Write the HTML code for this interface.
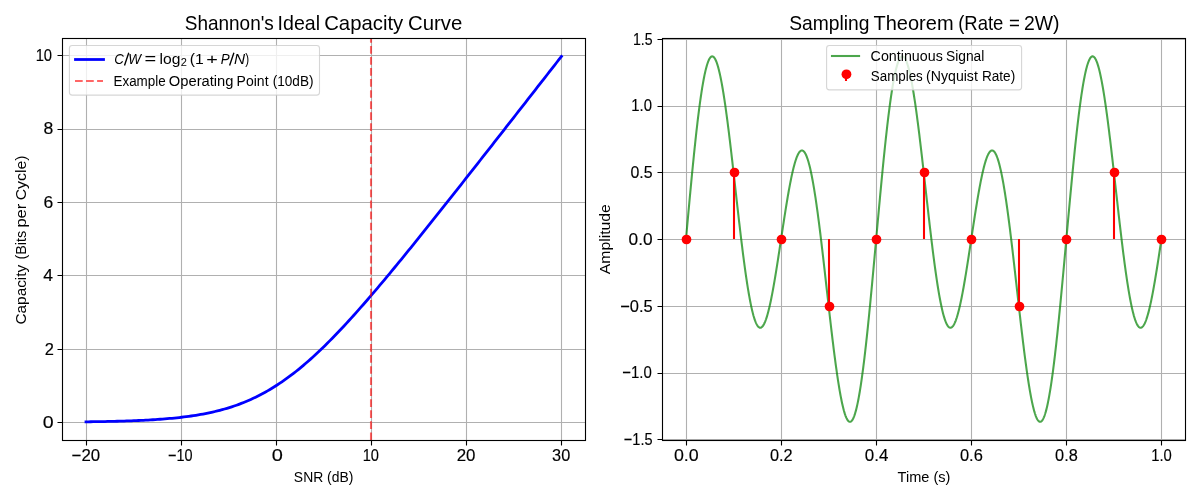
<!DOCTYPE html>
<html><head><meta charset="utf-8"><title>Shannon plots</title>
<style>html,body{margin:0;padding:0;background:#fff;}body{width:1200px;height:500px;overflow:hidden;}svg{display:block;will-change:transform;font-family:'Liberation Sans', sans-serif;fill:#000;}text[font-size="16.67"]{stroke:#000;stroke-width:0.15px;}</style></head><body>
<svg width="1200" height="500" viewBox="0 0 1200 500">
<rect width="1200" height="500" fill="#fff"/>
<clipPath id="c1"><rect x="62.22" y="38.1" width="523" height="402"/></clipPath>
<path d="M86.5 440.5V38.5M181.5 440.5V38.5M276.5 440.5V38.5M371.5 440.5V38.5M466.5 440.5V38.5M561.5 440.5V38.5M62.5 422.5H585.5M62.5 349.5H585.5M62.5 275.5H585.5M62.5 202.5H585.5M62.5 129.5H585.5M62.5 55.5H585.5" stroke="#b0b0b0" stroke-width="1.11" fill="none"/>
<g clip-path="url(#c1)">
<path d="M85.99 421.83L88.38 421.8L90.77 421.76L93.16 421.73L95.55 421.69L97.94 421.65L100.33 421.61L102.72 421.57L105.11 421.52L107.5 421.47L109.88 421.42L112.27 421.36L114.66 421.3L117.05 421.24L119.44 421.18L121.83 421.11L124.22 421.03L126.61 420.96L129 420.87L131.39 420.79L133.78 420.7L136.17 420.6L138.56 420.5L140.94 420.39L143.33 420.27L145.72 420.15L148.11 420.02L150.5 419.89L152.89 419.74L155.28 419.59L157.67 419.43L160.06 419.26L162.45 419.08L164.84 418.9L167.23 418.7L169.62 418.49L172 418.26L174.39 418.03L176.78 417.78L179.17 417.52L181.56 417.25L183.95 416.96L186.34 416.66L188.73 416.33L191.12 416L193.51 415.64L195.9 415.27L198.29 414.87L200.68 414.46L203.06 414.02L205.45 413.57L207.84 413.09L210.23 412.58L212.62 412.05L215.01 411.5L217.4 410.92L219.79 410.31L222.18 409.67L224.57 409L226.96 408.31L229.35 407.58L231.74 406.81L234.12 406.02L236.51 405.19L238.9 404.32L241.29 403.42L243.68 402.48L246.07 401.5L248.46 400.48L250.85 399.43L253.24 398.33L255.63 397.19L258.02 396.01L260.41 394.79L262.79 393.53L265.18 392.22L267.57 390.87L269.96 389.47L272.35 388.03L274.74 386.55L277.13 385.02L279.52 383.45L281.91 381.83L284.3 380.17L286.69 378.47L289.08 376.72L291.47 374.93L293.85 373.09L296.24 371.22L298.63 369.3L301.02 367.34L303.41 365.34L305.8 363.3L308.19 361.22L310.58 359.1L312.97 356.95L315.36 354.76L317.75 352.53L320.14 350.27L322.53 347.97L324.91 345.64L327.3 343.28L329.69 340.89L332.08 338.47L334.47 336.02L336.86 333.54L339.25 331.04L341.64 328.51L344.03 325.95L346.42 323.37L348.81 320.77L351.2 318.14L353.59 315.5L355.97 312.83L358.36 310.14L360.75 307.44L363.14 304.71L365.53 301.97L367.92 299.22L370.31 296.44L372.7 293.65L375.09 290.85L377.48 288.04L379.87 285.21L382.26 282.37L384.65 279.52L387.03 276.65L389.42 273.78L391.81 270.89L394.2 268L396.59 265.1L398.98 262.19L401.37 259.27L403.76 256.34L406.15 253.4L408.54 250.46L410.93 247.51L413.32 244.56L415.7 241.6L418.09 238.63L420.48 235.66L422.87 232.68L425.26 229.7L427.65 226.72L430.04 223.72L432.43 220.73L434.82 217.73L437.21 214.73L439.6 211.72L441.99 208.71L444.38 205.7L446.76 202.69L449.15 199.67L451.54 196.65L453.93 193.63L456.32 190.6L458.71 187.58L461.1 184.55L463.49 181.51L465.88 178.48L468.27 175.45L470.66 172.41L473.05 169.37L475.44 166.33L477.82 163.29L480.21 160.25L482.6 157.21L484.99 154.16L487.38 151.11L489.77 148.07L492.16 145.02L494.55 141.97L496.94 138.92L499.33 135.87L501.72 132.82L504.11 129.77L506.5 126.71L508.88 123.66L511.27 120.61L513.66 117.55L516.05 114.5L518.44 111.44L520.83 108.38L523.22 105.33L525.61 102.27L528 99.21L530.39 96.15L532.78 93.1L535.17 90.04L537.56 86.98L539.94 83.92L542.33 80.86L544.72 77.8L547.11 74.74L549.5 71.68L551.89 68.62L554.28 65.56L556.67 62.5L559.06 59.43L561.45 56.37" fill="none" stroke="#0000ff" stroke-width="2.78" stroke-linejoin="round" stroke-linecap="square"/>
<path d="M371 440.1V38.1" fill="none" stroke="#ff0000" stroke-opacity="0.6" stroke-width="2.08" stroke-dasharray="7.71 3.33"/>
</g>
<path d="M86.5 440.5v5M181.5 440.5v5M276.5 440.5v5M371.5 440.5v5M466.5 440.5v5M561.5 440.5v5M62.5 422.5h-5M62.5 349.5h-5M62.5 275.5h-5M62.5 202.5h-5M62.5 129.5h-5M62.5 55.5h-5" stroke="#000" stroke-width="1.11" fill="none"/>
<rect x="62.5" y="38.5" width="523" height="402" fill="none" stroke="#000" stroke-width="1.11" stroke-linejoin="miter"/>
<text x="71.62" y="460.9" font-size="16.67" textLength="28.53" lengthAdjust="spacingAndGlyphs">−20</text>
<text x="167.99" y="460.9" font-size="16.67" textLength="24.57" lengthAdjust="spacingAndGlyphs">−10</text>
<text x="271.85" y="460.9" font-size="16.67" textLength="11.12" lengthAdjust="spacingAndGlyphs">0</text>
<text x="362.7" y="460.9" font-size="16.67" textLength="16.27" lengthAdjust="spacingAndGlyphs">10</text>
<text x="456.71" y="460.9" font-size="16.67" textLength="18.8" lengthAdjust="spacingAndGlyphs">20</text>
<text x="552.09" y="460.9" font-size="16.67" textLength="18.16" lengthAdjust="spacingAndGlyphs">30</text>
<text x="42.87" y="428" font-size="16.67" textLength="10.89" lengthAdjust="spacingAndGlyphs">0</text>
<text x="44.74" y="355" font-size="16.67" textLength="9.14" lengthAdjust="spacingAndGlyphs">2</text>
<text x="43.21" y="281" font-size="16.67" textLength="9.74" lengthAdjust="spacingAndGlyphs">4</text>
<text x="43.48" y="208" font-size="16.67" textLength="9.72" lengthAdjust="spacingAndGlyphs">6</text>
<text x="43.61" y="134" font-size="16.67" textLength="9.8" lengthAdjust="spacingAndGlyphs">8</text>
<text x="35.64" y="61" font-size="16.67" textLength="16.44" lengthAdjust="spacingAndGlyphs">10</text>
<text x="293.87" y="482" font-size="13.89" textLength="59.5" lengthAdjust="spacingAndGlyphs">SNR (dB)</text>
<text transform="translate(25.6 324.53) rotate(-90)" font-size="13.89" textLength="59.75" lengthAdjust="spacingAndGlyphs">Capacity</text>
<text transform="translate(25.6 259.51) rotate(-90)" font-size="13.89" textLength="28.72" lengthAdjust="spacingAndGlyphs">(Bits</text>
<text transform="translate(25.6 227.54) rotate(-90)" font-size="13.89" textLength="23.76" lengthAdjust="spacingAndGlyphs">per</text>
<text transform="translate(25.6 200.36) rotate(-90)" font-size="13.89" textLength="45.01" lengthAdjust="spacingAndGlyphs">Cycle)</text>
<text x="184.75" y="29.9" font-size="19.44" textLength="89.1" lengthAdjust="spacingAndGlyphs">Shannon&#x27;s</text>
<text x="277.64" y="29.9" font-size="19.44" textLength="42.4" lengthAdjust="spacingAndGlyphs">Ideal</text>
<text x="324.21" y="29.9" font-size="19.44" textLength="79.03" lengthAdjust="spacingAndGlyphs">Capacity</text>
<text x="407.95" y="29.9" font-size="19.44" textLength="54.35" lengthAdjust="spacingAndGlyphs">Curve</text>
<rect x="69.4" y="45.5" width="250.1" height="49.6" rx="2.8" ry="2.8" fill="#fff" fill-opacity="0.8" stroke="#ccc" stroke-opacity="0.8" stroke-width="1.11"/>
<path d="M74.1 59.5H104.9" stroke="#0000ff" stroke-width="2.78" fill="none"/>
<path d="M75 81H103" stroke="#ff0000" stroke-opacity="0.6" stroke-width="2.08" stroke-dasharray="7.71 3.33" fill="none"/>
<text x="114.31" y="64.1" font-size="14.7" font-style="italic" textLength="9.58" lengthAdjust="spacingAndGlyphs">C</text>
<path d="M124.5 65.5L128.75 52.7M229.6 65.5L233.9 52.7" stroke="#000" stroke-width="1.35" fill="none"/>
<text x="128.15" y="64.1" font-size="14.7" font-style="italic" textLength="12.82" lengthAdjust="spacingAndGlyphs">W</text>
<text x="144.58" y="64.1" font-size="14.7" textLength="11.68" lengthAdjust="spacingAndGlyphs">=</text>
<text x="159.63" y="64.1" font-size="14.7" textLength="20.92" lengthAdjust="spacingAndGlyphs">log</text>
<text x="180.76" y="65.9" font-size="10.3" textLength="6.16" lengthAdjust="spacingAndGlyphs">2</text>
<text x="189.76" y="64.1" font-size="14.7" textLength="13.97" lengthAdjust="spacingAndGlyphs">(1</text>
<text x="206.29" y="64.1" font-size="14.7" textLength="11.56" lengthAdjust="spacingAndGlyphs">+</text>
<text x="220.75" y="64.1" font-size="14.7" font-style="italic" textLength="8.9" lengthAdjust="spacingAndGlyphs">P</text>
<text x="233.98" y="64.1" font-size="14.7" font-style="italic" textLength="11.11" lengthAdjust="spacingAndGlyphs">N</text>
<text x="245.2" y="64.1" font-size="14.7" textLength="3.92" lengthAdjust="spacingAndGlyphs">)</text>
<text x="113.51" y="85.7" font-size="13.89" textLength="52.18" lengthAdjust="spacingAndGlyphs">Example</text>
<text x="168.84" y="85.7" font-size="13.89" textLength="64.66" lengthAdjust="spacingAndGlyphs">Operating</text>
<text x="236.61" y="85.7" font-size="13.89" textLength="31.93" lengthAdjust="spacingAndGlyphs">Point</text>
<text x="272.74" y="85.7" font-size="13.89" textLength="40.79" lengthAdjust="spacingAndGlyphs">(10dB)</text>
<clipPath id="c2"><rect x="662.22" y="38.1" width="523" height="402"/></clipPath>
<path d="M686.5 440.5V38.5M781.5 440.5V38.5M876.5 440.5V38.5M971.5 440.5V38.5M1066.5 440.5V38.5M1161.5 440.5V38.5M662.5 439.5H1185.5M662.5 373.5H1185.5M662.5 306.5H1185.5M662.5 239.5H1185.5M662.5 172.5H1185.5M662.5 106.5H1185.5M662.5 39.5H1185.5" stroke="#b0b0b0" stroke-width="1.11" fill="none"/>
<g clip-path="url(#c2)">
<path d="M685.99 239.1L686.47 233.85L686.94 228.6L687.42 223.37L687.9 218.14L688.37 212.94L688.85 207.75L689.32 202.59L689.8 197.47L690.28 192.37L690.75 187.32L691.23 182.31L691.7 177.35L692.18 172.44L692.66 167.59L693.13 162.79L693.61 158.06L694.08 153.4L694.56 148.81L695.04 144.29L695.51 139.85L695.99 135.5L696.46 131.23L696.94 127.06L697.42 122.97L697.89 118.98L698.37 115.1L698.84 111.31L699.32 107.63L699.79 104.06L700.27 100.6L700.75 97.26L701.22 94.03L701.7 90.93L702.17 87.94L702.65 85.08L703.13 82.35L703.6 79.74L704.08 77.26L704.55 74.92L705.03 72.71L705.51 70.64L705.98 68.7L706.46 66.9L706.93 65.24L707.41 63.72L707.89 62.34L708.36 61.1L708.84 60.01L709.31 59.06L709.79 58.25L710.27 57.59L710.74 57.07L711.22 56.69L711.69 56.46L712.17 56.37L712.64 56.43L713.12 56.62L713.6 56.96L714.07 57.44L714.55 58.06L715.02 58.82L715.5 59.72L715.98 60.75L716.45 61.92L716.93 63.22L717.4 64.65L717.88 66.21L718.36 67.9L718.83 69.72L719.31 71.66L719.78 73.72L720.26 75.9L720.74 78.2L721.21 80.61L721.69 83.13L722.16 85.76L722.64 88.5L723.12 91.33L723.59 94.27L724.07 97.31L724.54 100.43L725.02 103.65L725.49 106.95L725.97 110.34L726.45 113.81L726.92 117.35L727.4 120.96L727.87 124.64L728.35 128.39L728.83 132.2L729.3 136.06L729.78 139.98L730.25 143.94L730.73 147.95L731.21 152L731.68 156.09L732.16 160.21L732.63 164.36L733.11 168.54L733.59 172.73L734.06 176.94L734.54 181.16L735.01 185.39L735.49 189.62L735.97 193.86L736.44 198.08L736.92 202.3L737.39 206.51L737.87 210.7L738.35 214.87L738.82 219.01L739.3 223.13L739.77 227.21L740.25 231.25L740.72 235.26L741.2 239.22L741.68 243.13L742.15 246.99L742.63 250.8L743.1 254.54L743.58 258.23L744.06 261.84L744.53 265.39L745.01 268.87L745.48 272.27L745.96 275.59L746.44 278.83L746.91 281.99L747.39 285.06L747.86 288.04L748.34 290.93L748.82 293.72L749.29 296.42L749.77 299.01L750.24 301.5L750.72 303.89L751.2 306.18L751.67 308.35L752.15 310.42L752.62 312.38L753.1 314.22L753.57 315.95L754.05 317.56L754.53 319.06L755 320.44L755.48 321.7L755.95 322.85L756.43 323.87L756.91 324.78L757.38 325.56L757.86 326.23L758.33 326.77L758.81 327.19L759.29 327.5L759.76 327.68L760.24 327.74L760.71 327.69L761.19 327.51L761.67 327.22L762.14 326.81L762.62 326.29L763.09 325.65L763.57 324.9L764.05 324.03L764.52 323.06L765 321.97L765.47 320.78L765.95 319.49L766.42 318.09L766.9 316.59L767.38 314.99L767.85 313.29L768.33 311.5L768.8 309.62L769.28 307.65L769.76 305.59L770.23 303.45L770.71 301.22L771.18 298.92L771.66 296.54L772.14 294.1L772.61 291.58L773.09 289L773.56 286.35L774.04 283.65L774.52 280.89L774.99 278.08L775.47 275.22L775.94 272.31L776.42 269.37L776.9 266.38L777.37 263.37L777.85 260.32L778.32 257.25L778.8 254.15L779.28 251.04L779.75 247.91L780.23 244.77L780.7 241.62L781.18 238.47L781.65 235.32L782.13 232.18L782.61 229.04L783.08 225.92L783.56 222.81L784.03 219.72L784.51 216.66L784.99 213.62L785.46 210.62L785.94 207.65L786.41 204.72L786.89 201.83L787.37 198.99L787.84 196.2L788.32 193.46L788.79 190.78L789.27 188.16L789.75 185.61L790.22 183.12L790.7 180.7L791.17 178.35L791.65 176.08L792.13 173.89L792.6 171.78L793.08 169.75L793.55 167.82L794.03 165.97L794.5 164.22L794.98 162.56L795.46 161L795.93 159.54L796.41 158.18L796.88 156.93L797.36 155.78L797.84 154.74L798.31 153.81L798.79 152.99L799.26 152.28L799.74 151.69L800.22 151.21L800.69 150.85L801.17 150.6L801.64 150.48L802.12 150.47L802.6 150.58L803.07 150.81L803.55 151.16L804.02 151.63L804.5 152.22L804.98 152.94L805.45 153.77L805.93 154.72L806.4 155.79L806.88 156.99L807.35 158.3L807.83 159.72L808.31 161.27L808.78 162.93L809.26 164.7L809.73 166.59L810.21 168.59L810.69 170.7L811.16 172.92L811.64 175.25L812.11 177.68L812.59 180.21L813.07 182.85L813.54 185.58L814.02 188.41L814.49 191.34L814.97 194.36L815.45 197.46L815.92 200.65L816.4 203.93L816.87 207.28L817.35 210.71L817.83 214.22L818.3 217.8L818.78 221.44L819.25 225.15L819.73 228.92L820.21 232.75L820.68 236.63L821.16 240.56L821.63 244.54L822.11 248.56L822.58 252.62L823.06 256.72L823.54 260.84L824.01 265L824.49 269.17L824.96 273.37L825.44 277.58L825.92 281.81L826.39 286.04L826.87 290.27L827.34 294.5L827.82 298.73L828.3 302.95L828.77 307.15L829.25 311.34L829.72 315.5L830.2 319.64L830.68 323.75L831.15 327.82L831.63 331.86L832.1 335.85L832.58 339.79L833.06 343.69L833.53 347.53L834.01 351.32L834.48 355.04L834.96 358.69L835.43 362.28L835.91 365.79L836.39 369.22L836.86 372.58L837.34 375.85L837.81 379.03L838.29 382.12L838.77 385.11L839.24 388.01L839.72 390.81L840.19 393.51L840.67 396.09L841.15 398.57L841.62 400.94L842.1 403.19L842.57 405.32L843.05 407.33L843.53 409.22L844 410.99L844.48 412.63L844.95 414.14L845.43 415.52L845.91 416.77L846.38 417.88L846.86 418.86L847.33 419.7L847.81 420.4L848.29 420.97L848.76 421.39L849.24 421.67L849.71 421.81L850.19 421.81L850.66 421.66L851.14 421.37L851.62 420.94L852.09 420.36L852.57 419.64L853.04 418.78L853.52 417.77L854 416.62L854.47 415.32L854.95 413.89L855.42 412.31L855.9 410.6L856.38 408.74L856.85 406.75L857.33 404.62L857.8 402.36L858.28 399.96L858.76 397.43L859.23 394.77L859.71 391.99L860.18 389.08L860.66 386.04L861.14 382.89L861.61 379.61L862.09 376.22L862.56 372.72L863.04 369.11L863.51 365.39L863.99 361.56L864.47 357.63L864.94 353.61L865.42 349.48L865.89 345.27L866.37 340.97L866.85 336.58L867.32 332.11L867.8 327.57L868.27 322.94L868.75 318.25L869.23 313.5L869.7 308.68L870.18 303.8L870.65 298.87L871.13 293.89L871.61 288.86L872.08 283.79L872.56 278.69L873.03 273.55L873.51 268.38L873.99 263.18L874.46 257.97L874.94 252.74L875.41 247.5L875.89 242.25L876.36 237L876.84 231.75L877.32 226.51L877.79 221.28L878.27 216.06L878.74 210.86L879.22 205.69L879.7 200.54L880.17 195.43L880.65 190.35L881.12 185.31L881.6 180.32L882.08 175.38L882.55 170.49L883.03 165.66L883.5 160.89L883.98 156.19L884.46 151.55L884.93 146.99L885.41 142.51L885.88 138.1L886.36 133.78L886.84 129.55L887.31 125.41L887.79 121.37L888.26 117.42L888.74 113.57L889.22 109.83L889.69 106.19L890.17 102.67L890.64 99.25L891.12 95.96L891.59 92.78L892.07 89.72L892.55 86.78L893.02 83.97L893.5 81.29L893.97 78.73L894.45 76.31L894.93 74.02L895.4 71.86L895.88 69.85L896.35 67.96L896.83 66.22L897.31 64.61L897.78 63.15L898.26 61.83L898.73 60.65L899.21 59.61L899.69 58.72L900.16 57.97L900.64 57.36L901.11 56.9L901.59 56.58L902.07 56.41L902.54 56.38L903.02 56.49L903.49 56.74L903.97 57.14L904.44 57.67L904.92 58.35L905.4 59.16L905.87 60.11L906.35 61.2L906.82 62.42L907.3 63.77L907.78 65.26L908.25 66.87L908.73 68.61L909.2 70.48L909.68 72.47L910.16 74.58L910.63 76.8L911.11 79.15L911.58 81.6L912.06 84.17L912.54 86.84L913.01 89.62L913.49 92.5L913.96 95.47L914.44 98.55L914.92 101.71L915.39 104.96L915.87 108.3L916.34 111.72L916.82 115.21L917.29 118.79L917.77 122.43L918.25 126.13L918.72 129.91L919.2 133.74L919.67 137.62L920.15 141.56L920.63 145.54L921.1 149.57L921.58 153.64L922.05 157.74L922.53 161.87L923.01 166.03L923.48 170.21L923.96 174.41L924.43 178.63L924.91 182.85L925.39 187.08L925.86 191.32L926.34 195.55L926.81 199.77L927.29 203.99L927.77 208.19L928.24 212.37L928.72 216.53L929.19 220.66L929.67 224.76L930.15 228.83L930.62 232.86L931.1 236.85L931.57 240.79L932.05 244.68L932.52 248.52L933 252.3L933.48 256.02L933.95 259.68L934.43 263.27L934.9 266.79L935.38 270.24L935.86 273.61L936.33 276.9L936.81 280.11L937.28 283.23L937.76 286.26L938.24 289.21L938.71 292.06L939.19 294.81L939.66 297.47L940.14 300.02L940.62 302.47L941.09 304.82L941.57 307.06L942.04 309.19L942.52 311.22L943 313.13L943.47 314.92L943.95 316.61L944.42 318.18L944.9 319.63L945.37 320.96L945.85 322.18L946.33 323.27L946.8 324.25L947.28 325.11L947.75 325.84L948.23 326.46L948.71 326.96L949.18 327.33L949.66 327.59L950.13 327.72L950.61 327.74L951.09 327.63L951.56 327.41L952.04 327.07L952.51 326.62L952.99 326.05L953.47 325.36L953.94 324.56L954.42 323.65L954.89 322.64L955.37 321.51L955.85 320.28L956.32 318.94L956.8 317.5L957.27 315.96L957.75 314.32L958.22 312.58L958.7 310.76L959.18 308.84L959.65 306.83L960.13 304.74L960.6 302.57L961.08 300.31L961.56 297.98L962.03 295.57L962.51 293.1L962.98 290.55L963.46 287.95L963.94 285.28L964.41 282.55L964.89 279.77L965.36 276.94L965.84 274.06L966.32 271.14L966.79 268.18L967.27 265.18L967.74 262.15L968.22 259.09L968.7 256.01L969.17 252.91L969.65 249.79L970.12 246.65L970.6 243.51L971.08 240.36L971.55 237.21L972.03 234.06L972.5 230.92L972.98 227.79L973.45 224.67L973.93 221.57L974.41 218.49L974.88 215.44L975.36 212.42L975.83 209.43L976.31 206.47L976.79 203.56L977.26 200.69L977.74 197.87L978.21 195.1L978.69 192.38L979.17 189.73L979.64 187.13L980.12 184.6L980.59 182.14L981.07 179.75L981.55 177.43L982.02 175.19L982.5 173.03L982.97 170.96L983.45 168.97L983.93 167.07L984.4 165.26L984.88 163.55L985.35 161.93L985.83 160.41L986.3 158.99L986.78 157.67L987.26 156.46L987.73 155.35L988.21 154.36L988.68 153.47L989.16 152.69L989.64 152.03L990.11 151.48L990.59 151.05L991.06 150.74L991.54 150.54L992.02 150.46L992.49 150.5L992.97 150.66L993.44 150.93L993.92 151.33L994.4 151.85L994.87 152.49L995.35 153.25L995.82 154.14L996.3 155.14L996.78 156.26L997.25 157.5L997.73 158.85L998.2 160.33L998.68 161.92L999.15 163.63L999.63 165.45L1000.11 167.38L1000.58 169.42L1001.06 171.58L1001.53 173.84L1002.01 176.21L1002.49 178.68L1002.96 181.26L1003.44 183.93L1003.91 186.71L1004.39 189.57L1004.87 192.54L1005.34 195.59L1005.82 198.73L1006.29 201.95L1006.77 205.26L1007.25 208.64L1007.72 212.11L1008.2 215.64L1008.67 219.25L1009.15 222.92L1009.63 226.65L1010.1 230.44L1010.58 234.29L1011.05 238.2L1011.53 242.15L1012.01 246.14L1012.48 250.18L1012.96 254.25L1013.43 258.36L1013.91 262.5L1014.38 266.67L1014.86 270.85L1015.34 275.05L1015.81 279.27L1016.29 283.5L1016.76 287.73L1017.24 291.96L1017.72 296.19L1018.19 300.42L1018.67 304.63L1019.14 308.83L1019.62 313L1020.1 317.16L1020.57 321.29L1021.05 325.38L1021.52 329.44L1022 333.46L1022.48 337.43L1022.95 341.36L1023.43 345.23L1023.9 349.05L1024.38 352.81L1024.86 356.51L1025.33 360.13L1025.81 363.69L1026.28 367.17L1026.76 370.57L1027.23 373.89L1027.71 377.13L1028.19 380.28L1028.66 383.33L1029.14 386.29L1029.61 389.14L1030.09 391.9L1030.57 394.55L1031.04 397.1L1031.52 399.53L1031.99 401.85L1032.47 404.05L1032.95 406.14L1033.42 408.1L1033.9 409.94L1034.37 411.66L1034.85 413.25L1035.33 414.71L1035.8 416.03L1036.28 417.23L1036.75 418.29L1037.23 419.21L1037.71 420L1038.18 420.64L1038.66 421.15L1039.13 421.52L1039.61 421.74L1040.09 421.83L1040.56 421.77L1041.04 421.56L1041.51 421.22L1041.99 420.73L1042.46 420.09L1042.94 419.31L1043.42 418.39L1043.89 417.33L1044.37 416.12L1044.84 414.77L1045.32 413.28L1045.8 411.64L1046.27 409.87L1046.75 407.96L1047.22 405.91L1047.7 403.73L1048.18 401.41L1048.65 398.96L1049.13 396.38L1049.6 393.68L1050.08 390.84L1050.56 387.88L1051.03 384.8L1051.51 381.59L1051.98 378.27L1052.46 374.84L1052.94 371.29L1053.41 367.63L1053.89 363.87L1054.36 360L1054.84 356.03L1055.31 351.97L1055.79 347.81L1056.27 343.56L1056.74 339.22L1057.22 334.8L1057.69 330.3L1058.17 325.73L1058.65 321.08L1059.12 316.36L1059.6 311.58L1060.07 306.73L1060.55 301.84L1061.03 296.88L1061.5 291.88L1061.98 286.84L1062.45 281.75L1062.93 276.63L1063.41 271.48L1063.88 266.3L1064.36 261.1L1064.83 255.88L1065.31 250.64L1065.79 245.4L1066.26 240.15L1066.74 234.9L1067.21 229.65L1067.69 224.41L1068.16 219.19L1068.64 213.98L1069.12 208.79L1069.59 203.62L1070.07 198.49L1070.54 193.39L1071.02 188.33L1071.5 183.31L1071.97 178.34L1072.45 173.42L1072.92 168.55L1073.4 163.75L1073.88 159L1074.35 154.32L1074.83 149.72L1075.3 145.19L1075.78 140.74L1076.26 136.36L1076.73 132.08L1077.21 127.88L1077.68 123.78L1078.16 119.77L1078.64 115.87L1079.11 112.06L1079.59 108.36L1080.06 104.77L1080.54 101.29L1081.02 97.92L1081.49 94.67L1081.97 91.54L1082.44 88.53L1082.92 85.64L1083.39 82.88L1083.87 80.25L1084.35 77.75L1084.82 75.38L1085.3 73.14L1085.77 71.04L1086.25 69.08L1086.73 67.25L1087.2 65.56L1087.68 64.01L1088.15 62.61L1088.63 61.34L1089.11 60.22L1089.58 59.24L1090.06 58.4L1090.53 57.71L1091.01 57.16L1091.49 56.76L1091.96 56.5L1092.44 56.38L1092.91 56.4L1093.39 56.57L1093.87 56.88L1094.34 57.33L1094.82 57.93L1095.29 58.66L1095.77 59.53L1096.24 60.53L1096.72 61.67L1097.2 62.95L1097.67 64.35L1098.15 65.89L1098.62 67.55L1099.1 69.35L1099.58 71.26L1100.05 73.3L1100.53 75.45L1101 77.73L1101.48 80.12L1101.96 82.62L1102.43 85.22L1102.91 87.94L1103.38 90.76L1103.86 93.68L1104.34 96.69L1104.81 99.8L1105.29 103L1105.76 106.29L1106.24 109.66L1106.72 113.11L1107.19 116.63L1107.67 120.23L1108.14 123.9L1108.62 127.64L1109.09 131.43L1109.57 135.28L1110.05 139.19L1110.52 143.15L1111 147.15L1111.47 151.19L1111.95 155.27L1112.43 159.39L1112.9 163.53L1113.38 167.7L1113.85 171.89L1114.33 176.1L1114.81 180.32L1115.28 184.54L1115.76 188.78L1116.23 193.01L1116.71 197.24L1117.19 201.46L1117.66 205.67L1118.14 209.86L1118.61 214.04L1119.09 218.18L1119.57 222.31L1120.04 226.39L1120.52 230.45L1120.99 234.46L1121.47 238.43L1121.95 242.35L1122.42 246.22L1122.9 250.04L1123.37 253.8L1123.85 257.49L1124.32 261.13L1124.8 264.69L1125.28 268.18L1125.75 271.6L1126.23 274.94L1126.7 278.19L1127.18 281.37L1127.66 284.45L1128.13 287.45L1128.61 290.36L1129.08 293.17L1129.56 295.88L1130.04 298.5L1130.51 301.01L1130.99 303.42L1131.46 305.73L1131.94 307.93L1132.42 310.02L1132.89 311.99L1133.37 313.86L1133.84 315.61L1134.32 317.25L1134.8 318.77L1135.27 320.18L1135.75 321.46L1136.22 322.63L1136.7 323.68L1137.17 324.61L1137.65 325.42L1138.13 326.1L1138.6 326.67L1139.08 327.12L1139.55 327.45L1140.03 327.65L1140.51 327.74L1140.98 327.71L1141.46 327.56L1141.93 327.29L1142.41 326.9L1142.89 326.4L1143.36 325.78L1143.84 325.05L1144.31 324.21L1144.79 323.26L1145.27 322.2L1145.74 321.03L1146.22 319.75L1146.69 318.37L1147.17 316.89L1147.65 315.31L1148.12 313.64L1148.6 311.86L1149.07 310L1149.55 308.05L1150.02 306.01L1150.5 303.88L1150.98 301.67L1151.45 299.39L1151.93 297.03L1152.4 294.59L1152.88 292.09L1153.36 289.52L1153.83 286.89L1154.31 284.19L1154.78 281.45L1155.26 278.64L1155.74 275.79L1156.21 272.9L1156.69 269.96L1157.16 266.98L1157.64 263.97L1158.12 260.93L1158.59 257.86L1159.07 254.77L1159.54 251.66L1160.02 248.53L1160.5 245.4L1160.97 242.25L1161.45 239.1" fill="none" stroke="#008000" stroke-opacity="0.7" stroke-width="2.08" stroke-linejoin="round" stroke-linecap="square"/>
<path d="M734 239V172M829 239V306M924 239V172M1019 239V306M1114 239V172" stroke="#ff0000" stroke-width="2.08" fill="none"/>
<g fill="#ff0000"><circle cx="686.5" cy="239.5" r="4.86"/><circle cx="734.5" cy="172.5" r="4.86"/><circle cx="781.5" cy="239.5" r="4.86"/><circle cx="829.5" cy="306.5" r="4.86"/><circle cx="876.5" cy="239.5" r="4.86"/><circle cx="924.5" cy="172.5" r="4.86"/><circle cx="971.5" cy="239.5" r="4.86"/><circle cx="1019.5" cy="306.5" r="4.86"/><circle cx="1066.5" cy="239.5" r="4.86"/><circle cx="1114.5" cy="172.5" r="4.86"/><circle cx="1161.5" cy="239.5" r="4.86"/></g>
</g>
<path d="M686.5 440.5v5M781.5 440.5v5M876.5 440.5v5M971.5 440.5v5M1066.5 440.5v5M1161.5 440.5v5M662.5 439.5h-5M662.5 373.5h-5M662.5 306.5h-5M662.5 239.5h-5M662.5 172.5h-5M662.5 106.5h-5M662.5 39.5h-5" stroke="#000" stroke-width="1.11" fill="none"/>
<rect x="662.5" y="38.5" width="523" height="402" fill="none" stroke="#000" stroke-width="1.11" stroke-linejoin="miter"/>
<text x="673.93" y="460.9" font-size="16.67" textLength="24.77" lengthAdjust="spacingAndGlyphs">0.0</text>
<text x="769.99" y="460.9" font-size="16.67" textLength="22.68" lengthAdjust="spacingAndGlyphs">0.2</text>
<text x="864.86" y="460.9" font-size="16.67" textLength="23.55" lengthAdjust="spacingAndGlyphs">0.4</text>
<text x="959.98" y="460.9" font-size="16.67" textLength="22.87" lengthAdjust="spacingAndGlyphs">0.6</text>
<text x="1055.09" y="460.9" font-size="16.67" textLength="22.65" lengthAdjust="spacingAndGlyphs">0.8</text>
<text x="1151.19" y="460.9" font-size="16.67" textLength="20.6" lengthAdjust="spacingAndGlyphs">1.0</text>
<text x="623.84" y="445" font-size="16.67" textLength="28.72" lengthAdjust="spacingAndGlyphs">−1.5</text>
<text x="622.21" y="378" font-size="16.67" textLength="29.56" lengthAdjust="spacingAndGlyphs">−1.0</text>
<text x="620.14" y="312" font-size="16.67" textLength="32.5" lengthAdjust="spacingAndGlyphs">−0.5</text>
<text x="628.55" y="245" font-size="16.67" textLength="24.03" lengthAdjust="spacingAndGlyphs">0.0</text>
<text x="630.4" y="178" font-size="16.67" textLength="22.12" lengthAdjust="spacingAndGlyphs">0.5</text>
<text x="631.28" y="111" font-size="16.67" textLength="20.7" lengthAdjust="spacingAndGlyphs">1.0</text>
<text x="632.94" y="45" font-size="16.67" textLength="19.61" lengthAdjust="spacingAndGlyphs">1.5</text>
<text x="897.61" y="482" font-size="13.89" textLength="52.79" lengthAdjust="spacingAndGlyphs">Time (s)</text>
<text transform="translate(609.8 274.2) rotate(-90)" font-size="13.89" textLength="69.96" lengthAdjust="spacingAndGlyphs">Amplitude</text>
<text x="789.13" y="29.9" font-size="19.44" textLength="80.25" lengthAdjust="spacingAndGlyphs">Sampling</text>
<text x="873.49" y="29.9" font-size="19.44" textLength="80.08" lengthAdjust="spacingAndGlyphs">Theorem</text>
<text x="958.21" y="29.9" font-size="19.44" textLength="45.15" lengthAdjust="spacingAndGlyphs">(Rate</text>
<text x="1009.04" y="29.9" font-size="19.44" textLength="10.9" lengthAdjust="spacingAndGlyphs">=</text>
<text x="1024" y="29.9" font-size="19.44" textLength="35.56" lengthAdjust="spacingAndGlyphs">2W)</text>
<rect x="826.6" y="45.5" width="195" height="44.4" rx="2.8" ry="2.8" fill="#fff" fill-opacity="0.8" stroke="#ccc" stroke-opacity="0.8" stroke-width="1.11"/>
<path d="M830.95 56H860.1" stroke="#008000" stroke-opacity="0.7" stroke-width="2.08" fill="none"/>
<path d="M846 74V81" stroke="#ff0000" stroke-width="2.08" fill="none"/>
<circle cx="846.45" cy="74.3" r="4.9" fill="#ff0000"/>
<text x="870.63" y="60.6" font-size="13.89" textLength="72.14" lengthAdjust="spacingAndGlyphs">Continuous</text>
<text x="945.98" y="60.6" font-size="13.89" textLength="38.37" lengthAdjust="spacingAndGlyphs">Signal</text>
<text x="870.8" y="80.8" font-size="13.89" textLength="51.97" lengthAdjust="spacingAndGlyphs">Samples</text>
<text x="926.11" y="80.8" font-size="13.89" textLength="51.73" lengthAdjust="spacingAndGlyphs">(Nyquist</text>
<text x="981.9" y="80.8" font-size="13.89" textLength="33.3" lengthAdjust="spacingAndGlyphs">Rate)</text>
</svg></body></html>
